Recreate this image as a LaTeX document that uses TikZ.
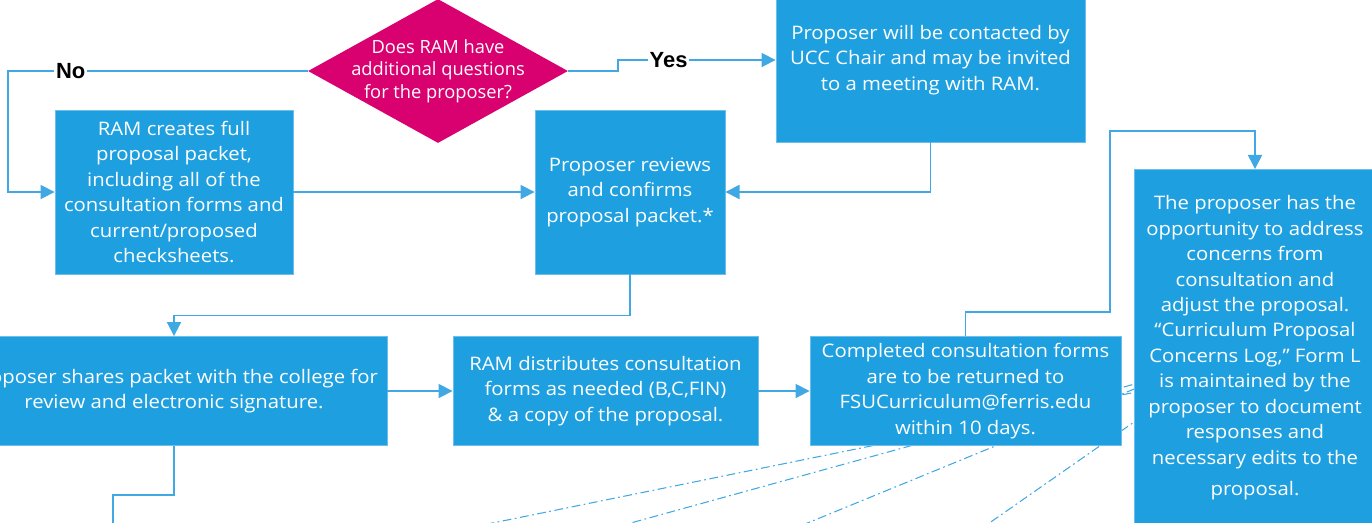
\documentclass[tikz,border=0pt]{standalone}
\usepackage{fontspec}
\setmainfont{Open Sans}
\newfontfamily\boxfont{Open Sans}[FakeStretch=1.09,Ligatures=TeX]
\newfontfamily\labelfont{Liberation Sans}
\usepackage{xcolor}
\usetikzlibrary{shapes.geometric,arrows.meta}
\definecolor{boxblue}{RGB}{30,160,224}
\definecolor{boxedge}{RGB}{110,190,236}
\definecolor{lineblue}{RGB}{64,168,226}
\definecolor{askpink}{RGB}{217,0,111}
\newcommand{\px}{0.02cm}

\begin{document}
\begin{tikzpicture}[x=0.02cm,y=-0.02cm,
  box/.style={rectangle,fill=boxblue,draw=boxedge,line width=0.5pt,text=white,align=center,inner sep=2pt,font=\boxfont\fontsize{10.6}{14.5}\selectfont},
  link/.style={draw=lineblue,line width=1pt},
  arr/.style={link,-{Triangle[length=8pt,width=8pt,fill=lineblue]}},
  side/.style={draw=lineblue,line width=0.6pt,dash pattern=on 5pt off 2pt on 1pt off 2pt},
  lbl/.style={fill=white,inner sep=1pt,text=black,font=\labelfont\bfseries\fontsize{12.5}{14}\selectfont}]
\path[use as bounding box,clip] (0,0) rectangle (1372,522);

\coordinate (a1) at (1200,379); \coordinate (a2) at (409,540);
\coordinate (b1) at (1200,366); \coordinate (b2) at (569,540);
\coordinate (c1) at (1200,362); \coordinate (c2) at (766,540);
\coordinate (d1) at (1200,376); \coordinate (d2) at (965,540);
\coordinate (down) at (113,540);
\draw[side] (a1)--(a2);
\draw[side] (b1)--(b2);
\draw[side] (c1)--(c2);
\draw[side] (d1)--(d2);

\node[diamond,fill=askpink,text=white,align=center,inner sep=-0.5cm,minimum width=260*\px,minimum height=144*\px,font=\fontsize{10.4}{12.8}\selectfont] (ask) at (438,71) {Does RAM have\\additional questions\\for the proposer?};
\node[box,minimum width=309*\px,minimum height=164*\px] (contact) at (930.5,60) {Proposer will be contacted by\\UCC Chair and may be invited\\to a meeting with RAM.};
\node[box,minimum width=238*\px,minimum height=164*\px] (full) at (174,192) {RAM creates full\\proposal packet,\\including all of the\\consultation forms and\\current/proposed\\checksheets.};
\node[box,minimum width=190*\px,minimum height=164*\px] (review) at (630,192) {Proposer reviews\\and confirms\\proposal packet.*};
\node[box,minimum width=426*\px,minimum height=109*\px] (share) at (174,391) {Proposer shares packet with the college for\\review and electronic signature.};
\node[box,minimum width=305*\px,minimum height=109*\px] (dist) at (605.5,391) {RAM distributes consultation\\forms as needed (B,C,FIN)\\\& a copy of the proposal.};
\node[box,minimum width=311*\px,minimum height=109*\px] (done) at (965.5,391) {Completed consultation forms\\are to be returned to\\FSUCurriculum@ferris.edu\\within 10 days.};
\node[box,anchor=north,minimum width=242*\px,inner ysep=26*\px,text depth=40*\px] (fix) at (1255,169) {The proposer has the\\opportunity to address\\concerns from\\consultation and\\adjust the proposal.\\“Curriculum Proposal\\Concerns Log,” Form L\\is maintained by the\\proposer to document\\responses and\\necessary edits to the\\[3pt]proposal.};

\draw[arr] (ask.west) -- node[lbl,pos=0.79] (no) {No} ++(-300,0) |- (full.west);
\draw[arr] (ask.east) -- ++(50,0) |- node[lbl,pos=0.66] (yes) {Yes} (contact.west);
\draw[arr] (contact.south) |- (review.east);
\draw[arr] (full.east) -- (review.west);
\draw[arr] (review.south) -- ++(0,41) -| (share.north);
\draw[arr] (share.east) -- (dist.west);
\draw[arr] (dist.east) -- (done.west);
\draw[arr] (done.north) -- ++(0,-24) -| (1110,131) -| (fix.north);
\draw[link] (share.south) -- ++(0,49) -| (down);
\end{tikzpicture}
\end{document}
